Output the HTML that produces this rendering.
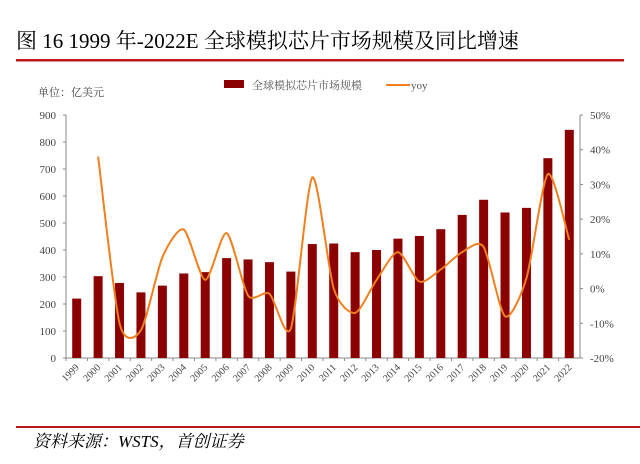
<!DOCTYPE html>
<html><head><meta charset="utf-8"><style>
body{margin:0;background:#fff;width:640px;height:459px;overflow:hidden;font-family:"Liberation Serif","Noto Serif CJK SC",serif;}
svg text{font-family:"Liberation Serif","Noto Serif CJK SC",serif;}
</style></head><body>
<svg width="640" height="459" xmlns="http://www.w3.org/2000/svg">
<text x="16" y="48" font-size="21" fill="#000" font-family="Liberation Serif, Noto Sans CJK SC, sans-serif">图 16 1999 年-2022E 全球模拟芯片市场规模及同比增速</text>
<rect x="16" y="59" width="608" height="2.5" fill="#c0171f"/>
<text x="38" y="96" font-size="11" fill="#444">单位：亿美元</text>
<g>
<rect x="224" y="80" width="20" height="8" fill="#8b0000"/>
<text x="252" y="89" font-size="11" fill="#555">全球模拟芯片市场规模</text>
<line x1="386" y1="85" x2="410" y2="85" stroke="#f07f20" stroke-width="2"/>
<text x="411" y="89" font-size="11" fill="#555">yoy</text>
</g>
<g id="plot"></g>
<rect x="16" y="426" width="624" height="2" fill="#c0171f"/>
<text x="33" y="447" font-size="17" font-style="italic" fill="#000">资料来源：WSTS，首创证券</text>
</svg>
<script>
const years=["1999","2000","2001","2002","2003","2004","2005","2006","2007","2008","2009","2010","2011","2012","2013","2014","2015","2016","2017","2018","2019","2020","2021","2022"];
const marketSize=[220,303,278,243,268,313,318,370,365,355,320,422,424,392,400,442,452,477,530,586,539,556,740,845];
const yoy=[null,38,-10,-12,9,17,2.5,16,-2,-1.5,-11.5,32,0,-7,2.5,10.5,2,5.5,10.5,12,-8,3,33,14];
const leftTicks=[0,100,200,300,400,500,600,700,800,900];
const rightTicks=[-20,-10,0,10,20,30,40,50];
const rightTickLabels=["-20%","-10%","0%","10%","20%","30%","40%","50%"];
const NS="http://www.w3.org/2000/svg";
const g=document.getElementById('plot');
const L=66,R=580,T=115,B=358;
const bw=(R-L)/years.length;
const xc=i=>L+bw*(i+0.5);
const yl=v=>B-(v/900)*(B-T);
const yr=v=>B-((v+20)/70)*(B-T);
function mk(tag,attrs){const e=document.createElementNS(NS,tag);for(const k in attrs)e.setAttribute(k,attrs[k]);g.appendChild(e);return e;}
let e;
e=mk('line',{x1:L,y1:T,x2:L,y2:B,stroke:'#888'});


e=mk('line',{x1:R,y1:T,x2:R,y2:B,stroke:'#888'});


e=mk('line',{x1:L,y1:B,x2:R,y2:B,stroke:'#888'});


leftTicks.forEach(v=>{
 e=mk('line',{x1:L-3,y1:yl(v),x2:L,y2:yl(v),stroke:'#888'});
 
 
 e=mk('text',{x:L-10,y:yl(v)+4,'font-size':11,'text-anchor':'end',fill:'#444'});e.textContent=v;
 
 
});
rightTicks.forEach((v,i)=>{
 e=mk('line',{x1:R,y1:yr(v),x2:R+3,y2:yr(v),stroke:'#888'});
 
 
 e=mk('text',{x:R+10,y:yr(v)+4,'font-size':11,fill:'#444'});e.textContent=rightTickLabels[i];
 
 
});
years.forEach((y,i)=>{
 e=mk('line',{x1:L+bw*i,y1:B,x2:L+bw*i,y2:B+3,stroke:'#888'});
 
 
 e=mk('rect',{x:xc(i)-4.5,y:yl(marketSize[i]),width:9,height:B-yl(marketSize[i]),fill:'#8b0000'});
 
 
 const tx=xc(i)+3,ty=B+10;
 e=mk('text',{x:tx,y:ty,'font-size':10,'text-anchor':'end',fill:'#444',transform:`rotate(-45 ${tx} ${ty})`});e.textContent=y;
 
 
});
const pts=[];yoy.forEach((v,i)=>{if(v!==null)pts.push([xc(i),yr(v)]);});
let d=`M${pts[0][0]},${pts[0][1]}`;
const k=8;
for(let i=0;i<pts.length-1;i++){
 const p0=pts[Math.max(0,i-1)],p1=pts[i],p2=pts[i+1],p3=pts[Math.min(pts.length-1,i+2)];
 const c1=[p1[0]+(p2[0]-p0[0])/k,p1[1]+(p2[1]-p0[1])/k],c2=[p2[0]-(p3[0]-p1[0])/k,p2[1]-(p3[1]-p1[1])/k];
 d+=` C${c1[0]},${c1[1]} ${c2[0]},${c2[1]} ${p2[0]},${p2[1]}`;
}
e=mk('path',{d:d,fill:'none',stroke:'#f07f20','stroke-width':2});


</script>
</body></html>
